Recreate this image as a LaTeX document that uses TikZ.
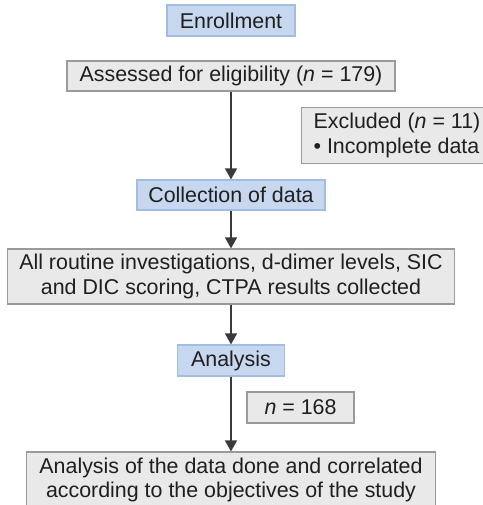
\documentclass[tikz,border=0pt]{standalone}
\usepackage{fontspec}
\setmainfont{Liberation Sans}
\usetikzlibrary{arrows.meta}
\definecolor{bluefill}{HTML}{C6D7EF}
\definecolor{blueline}{HTML}{A2BCE2}
\definecolor{grayfill}{HTML}{E9E9E9}
\definecolor{grayline}{HTML}{9A9A9A}
\definecolor{inkgray}{HTML}{3A3A3A}
\begin{document}
\begin{tikzpicture}[x=1pt, y=-1pt,
		every node/.style={font=\fontsize{21.4}{24.5}\selectfont, text=black!88, inner sep=0pt},
		bluebox/.style={draw=blueline, fill=bluefill, line width=1.2pt},
		graybox/.style={draw=grayline, fill=grayfill, line width=1.2pt},
		flow/.style={draw=inkgray, line width=1.6pt, -{Triangle[width=12pt, length=11pt]}}]
		\useasboundingbox (0,0) rectangle (482,505);
		
		%stages
		\node (enroll) at (231, 20.5) [bluebox, minimum width=128, minimum height=31]{Enrollment};
		\node (collect) at (231, 195) [bluebox, minimum width=188, minimum height=30]{Collection of data};
		\node (analysis) at (231, 360.5) [bluebox, minimum width=107, minimum height=31]{Analysis};
		
		%steps
		\node (assessed) at (231, 76) [graybox, minimum width=328, minimum height=30]{Assessed for eligibility (\textit{n} = 179)};
		\node (excluded) at (301, 135.5) [graybox, anchor=west, align=left, inner xsep=12pt, minimum height=56]{Excluded (\textit{n} = 11)\\\textbullet\ Incomplete data};
		\node (routine) at (231, 276.5) [graybox, align=center, minimum width=447, minimum height=55]{All routine investigations, d-dimer levels, SIC\\and DIC scoring, CTPA results collected};
		\node (count) at (300.5, 407.5) [graybox, minimum width=107, minimum height=31]{\textit{n} = 168};
		\node (final) at (231, 480) [graybox, align=center, minimum width=409, minimum height=56]{Analysis of the data done and correlated\\according to the objectives of the study};
		
		%arrows
		\draw[flow] (assessed) -- (collect);
		\draw[flow] (collect) -- (routine);
		\draw[flow] (routine) -- (analysis);
		\draw[flow] (analysis) -- (final);
		\end{tikzpicture}
\end{document}
